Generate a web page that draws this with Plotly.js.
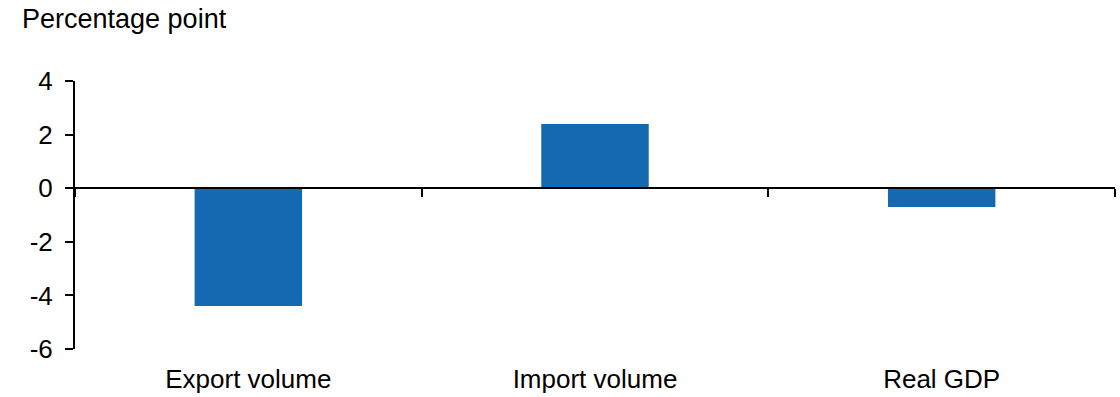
<!DOCTYPE html>
<html>
<head>
<meta charset="utf-8">
<script src="https://cdn.plot.ly/plotly-3.0.1.min.js"></script>
<style>html,body{margin:0;padding:0;background:#fff;}#chart{width:1120px;height:397px;}</style>
</head>
<body>
<div id="chart"></div>
<script>
const categories = ["Export volume", "Import volume", "Real GDP"];
const values = [-4.4, 2.4, -0.7];
const yTicks = [-6, -4, -2, 0, 2, 4];
const yTitle = "Percentage point";

const font = {family: "Liberation Sans, Arial, sans-serif", size: 26, color: "#000"};
const titleFont = {family: "Liberation Sans, Arial, sans-serif", size: 27, color: "#000"};

const data = [
  {type: "bar", x: categories, y: values, marker: {color: "#1569b0"}, width: 0.31, hoverinfo: "skip", showlegend: false},
  {type: "bar", x: categories, y: categories.map(() => null), xaxis: "x2", hoverinfo: "skip", showlegend: false}
];

const layout = {
  width: 1120, height: 397,
  margin: {l: 75, r: 5, t: 81, b: 48},
  paper_bgcolor: "#fff", plot_bgcolor: "#fff",
  font: font,
  barmode: "overlay",
  title: {text: yTitle, font: titleFont, x: 22/1120, xanchor: "left", xref: "container", y: 1 - 9/397, yanchor: "top", yref: "container"},
  xaxis: {type: "category", range: [-0.5, 2.5], showline: false, ticks: "", showgrid: false, zeroline: false, tickfont: font, fixedrange: true, ticklabelstandoff: 12},
  xaxis2: {type: "category", overlaying: "x", anchor: "free", position: 0.6, side: "bottom", range: [-0.5, 2.5],
    showline: true, linecolor: "#000", linewidth: 2, ticks: "outside", tickson: "boundaries", ticklen: 8, tickwidth: 2, tickcolor: "#000",
    showticklabels: false, showgrid: false, zeroline: false},
  yaxis: {range: [-6, 4], tickvals: yTicks, ticktext: yTicks.map(String), showline: true, linecolor: "#000", linewidth: 2,
    ticks: "outside", ticklen: 8, tickwidth: 2, tickcolor: "#000", showgrid: false, zeroline: false, tickfont: font, ticklabelstandoff: 7}
};

Plotly.newPlot("chart", data, layout, {displayModeBar: false, staticPlot: true});
</script>
</body>
</html>
